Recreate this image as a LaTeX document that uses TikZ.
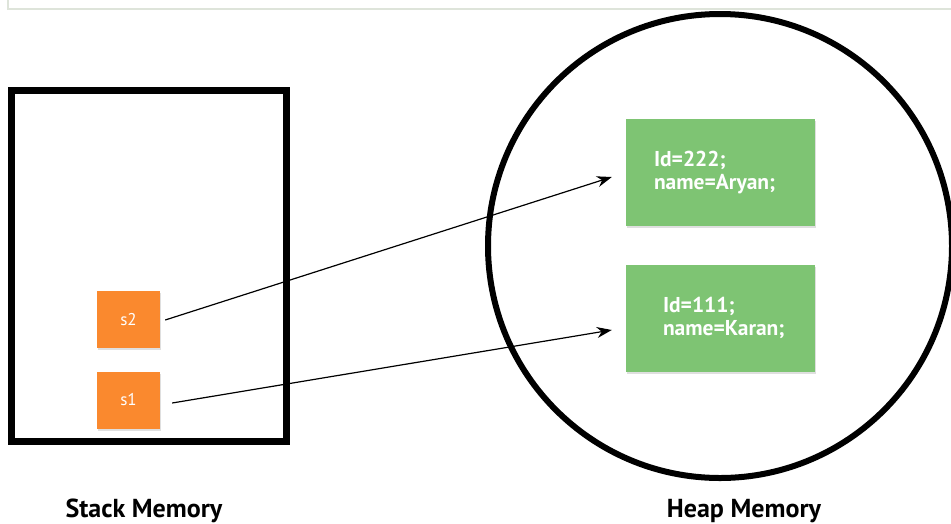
\documentclass[tikz,border=0pt]{standalone}
\usepackage{fontspec}
\setmainfont{PT Sans}
\usetikzlibrary{arrows.meta,shadows,calc}
\definecolor{stackor}{RGB}{250,137,46}
\definecolor{heapgr}{RGB}{126,196,115}
\definecolor{framegray}{RGB}{222,228,218}
\begin{document}
\begin{tikzpicture}[x=1pt,y=-1pt,
  varbox/.style={fill=stackor, minimum width=63pt, minimum height=57pt, inner sep=0pt,
     text=white, font=\fontsize{17}{19}\selectfont,
     drop shadow={opacity=0.25, shadow xshift=1pt, shadow yshift=-2pt}},
  objbox/.style={fill=heapgr, minimum height=107pt, inner ysep=0pt,
     text=white, font=\bfseries\fontsize{21.5}{23}\selectfont, align=left,
     drop shadow={opacity=0.25, shadow xshift=1pt, shadow yshift=-2pt}},
  ptr/.style={line width=1.2pt, -{Stealth[length=15pt,width=11pt]}},
  caption/.style={font=\bfseries\fontsize{26}{28}\selectfont}
]
\useasboundingbox (0,0) rectangle (951,523);
% top frame
\draw[framegray, line width=1.5pt] (8,-5) -- (8,9) -- (960,9);
% stack memory
\node[draw, line width=7pt, minimum width=275pt, minimum height=351pt, inner sep=0pt] (stack) at (148.75,265.75) {};
% heap memory
\node[draw, circle, line width=6pt, minimum size=464pt, inner sep=0pt] (heap) at (720,246) {};
% variables
\node[varbox] (s2) at (128.5,319.5) {s2};
\node[varbox] (s1) at (128.5,400) {s1};
% objects
\node[objbox, inner xsep=28pt, text width=133pt] (o1) at (720.5,172.5) {Id=222;\\name=Aryan;};
\node[objbox, inner xsep=37pt, text width=115pt] (o2) at (720.5,318) {Id=111;\\name=Karan;};
% pointers
\draw[ptr] ($(s2.east)+(5,0.5)$) -- ($(o1.west)+(-14,4.5)$);
\draw[ptr] ($(s1.east)+(12,3)$) -- ($(o2.west)+(-14,12)$);
% captions
\node[caption, anchor=base] (stacklbl) at (144,517) {Stack Memory};
\node[caption, anchor=base] (heaplbl) at (744,517) {Heap Memory};
\end{tikzpicture}
\end{document}
